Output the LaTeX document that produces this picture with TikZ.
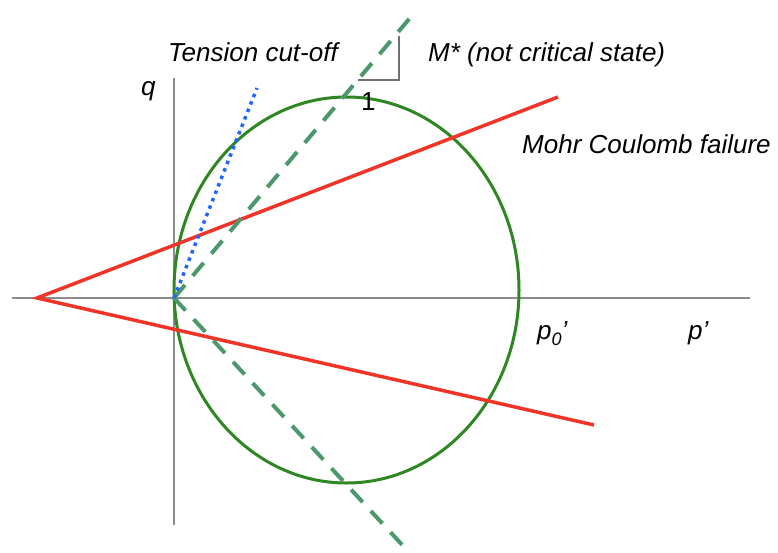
\documentclass[tikz,border=0pt]{standalone}
\usepackage{fontspec}
\setmainfont{Liberation Sans}
\begin{document}
\begin{tikzpicture}[x=1pt,y=-1pt,
    lbl/.style={font=\fontsize{26}{30}\selectfont\itshape, inner sep=0pt}]

    % Colores
    \definecolor{axisgray}{RGB}{140,140,140}
    \definecolor{mcred}{RGB}{240,52,40}
    \definecolor{ellgreen}{RGB}{46,135,34}
    \definecolor{mgreen}{RGB}{76,152,108}
    \definecolor{tcblue}{RGB}{34,102,255}

    \useasboundingbox (0,0) rectangle (778,552);

    % 1. Ejes
    \coordinate (O) at (174,298);
    \coordinate (pend) at (750,298);
    \coordinate (pstart) at (12,298);
    \coordinate (qtop) at (174,78);
    \coordinate (qbot) at (174,525);
    \draw[axisgray, line width=1.5pt] (pstart) -- (pend);
    \draw[axisgray, line width=1.5pt] (qbot) -- (qtop);

    % 2. Elipse de fluencia
    \draw[ellgreen, line width=3pt] (346.5,290) ellipse (172.5 and 193);

    % 3. Rectas de Mohr Coulomb
    \coordinate (apex) at (37,298);
    \coordinate (mcup) at (558,97);
    \coordinate (mcdown) at (594,425);
    \draw[mcred, line width=3.5pt] (mcup) -- (apex) -- (mcdown);

    % 4. Pendiente M* (discontinua)
    \coordinate (mup) at (415,12);
    \coordinate (mdown) at (406,549);
    \draw[mgreen, line width=4pt, dash pattern=on 17pt off 12pt] (O) -- (mup);
    \draw[mgreen, line width=4pt, dash pattern=on 17pt off 12pt] (O) -- (mdown);

    % 5. Corte de traccion (punteada)
    \coordinate (tctop) at (257,88);
    \draw[tcblue, line width=3.5pt, dash pattern=on 3.5pt off 4.5pt] (O) -- (tctop);

    % 6. Triangulo de pendiente
    \coordinate (s1) at (358,80);
    \coordinate (s2) at (399,80);
    \coordinate (s3) at (399,36);
    \draw[axisgray!80!black, line width=1.5pt] (s1) -- (s2) -- (s3);
    \node[lbl, anchor=base west] (one) at (361,110) {\upshape 1};

    % 7. Etiquetas
    \node[lbl, anchor=base west] (tension) at (168,61) {Tension cut-off};
    \node[lbl, anchor=base west] (mstar) at (428,61) {M* (not critical state)};
    \node[lbl, anchor=base west] (qlab) at (141,95) {q};
    \node[lbl, anchor=base west] (mohr) at (522,153) {Mohr Coulomb failure};
    \node[lbl, anchor=base west] (p0lab) at (537,339) {p\raisebox{-6pt}{\fontsize{18}{20}\selectfont 0}’};
    \node[lbl, anchor=base west] (plab) at (688,339) {p’};

\end{tikzpicture}
\end{document}
